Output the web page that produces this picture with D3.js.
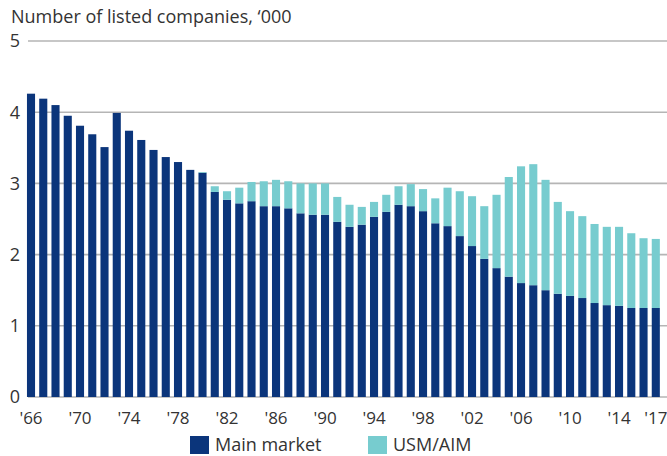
<!DOCTYPE html>
<html>
<head>
<meta charset="utf-8">
<script src="https://cdn.jsdelivr.net/npm/d3@7"></script>
<style>
  html, body { margin: 0; padding: 0; background: #fff; }
  svg { display: block; }
  text { font-family: "Open Sans", "Noto Sans", sans-serif; fill: #333; }
</style>
</head>
<body>
<svg id="chart" width="667" height="456"></svg>
<script>
const years = d3.range(1966, 2018);
const mainMarket = [4.26, 4.19, 4.10, 3.95, 3.81, 3.69, 3.51, 3.99, 3.74, 3.61,
  3.47, 3.37, 3.30, 3.19, 3.15, 2.88, 2.77, 2.72, 2.75, 2.68,
  2.68, 2.65, 2.58, 2.56, 2.56, 2.46, 2.39, 2.42, 2.53, 2.60,
  2.70, 2.68, 2.61, 2.44, 2.40, 2.26, 2.12, 1.94, 1.81, 1.69,
  1.60, 1.57, 1.50, 1.45, 1.42, 1.39, 1.32, 1.29, 1.28, 1.25,
  1.25, 1.25];
const totalListed = [4.26, 4.19, 4.10, 3.95, 3.81, 3.69, 3.51, 3.99, 3.74, 3.61,
  3.47, 3.37, 3.30, 3.19, 3.16, 2.96, 2.89, 2.94, 3.02, 3.03,
  3.05, 3.03, 3.00, 3.00, 3.00, 2.81, 2.70, 2.67, 2.74, 2.84,
  2.96, 2.99, 2.92, 2.79, 2.94, 2.89, 2.82, 2.68, 2.84, 3.09,
  3.24, 3.27, 3.05, 2.74, 2.61, 2.54, 2.43, 2.39, 2.39, 2.30,
  2.23, 2.22];
const usmAim = totalListed.map((t, i) => +(t - mainMarket[i]).toFixed(2));
const yTicks = [0, 1, 2, 3, 4, 5];
const xTickYears = [1966, 1970, 1974, 1978, 1982, 1986, 1990, 1994, 1998, 2002, 2006, 2010, 2014, 2017];
const seriesNames = ["Main market", "USM/AIM"];
const colors = ["#0b357b", "#77cccf"];

const svg = d3.select("#chart");
const x = d3.scaleBand().domain(years).range([22.8, 664]).paddingInner(0.34).paddingOuter(0.34);
const y = d3.scaleLinear().domain([0, 5]).range([397, 41]);

// title
svg.append("text").attr("x", 11).attr("y", 23).attr("font-size", 18)
  .text("Number of listed companies, \u2018000");

// gridlines
svg.append("g").selectAll("line").data(yTicks).join("line")
  .attr("x1", 28).attr("x2", 667)
  .attr("y1", d => y(d)).attr("y2", d => y(d))
  .attr("stroke", "#b5b5b5").attr("stroke-width", 1.6);

// y labels
svg.append("g").selectAll("text").data(yTicks).join("text")
  .attr("x", 15).attr("y", d => y(d)).attr("dy", "0.35em")
  .attr("text-anchor", "middle").attr("font-size", 18).text(d => d);

// stacked bars
const rows = years.map((yr, i) => ({ year: yr, main: mainMarket[i], usm: usmAim[i] }));
const stack = d3.stack().keys(["main", "usm"])(rows);
svg.append("g").selectAll("g").data(stack).join("g")
  .attr("fill", (d, i) => colors[i])
  .selectAll("rect").data(d => d).join("rect")
  .attr("x", d => x(d.data.year))
  .attr("width", x.bandwidth())
  .attr("y", d => y(d[1]))
  .attr("height", d => Math.max(0, y(d[0]) - y(d[1])));

// x labels
svg.append("g").selectAll("text").data(xTickYears).join("text")
  .attr("x", d => x(d) + x.bandwidth() / 2).attr("y", 424)
  .attr("text-anchor", "middle").attr("font-size", 17)
  .text(d => "'" + String(d).slice(2));

// legend
const legend = svg.append("g");
const lx = [190, 368];
seriesNames.forEach((name, i) => {
  legend.append("rect").attr("x", lx[i]).attr("y", 436).attr("width", 19).attr("height", 18).attr("fill", colors[i]);
  legend.append("text").attr("x", lx[i] + 25).attr("y", 451).attr("font-size", 18).text(name);
});
</script>
</body>
</html>
